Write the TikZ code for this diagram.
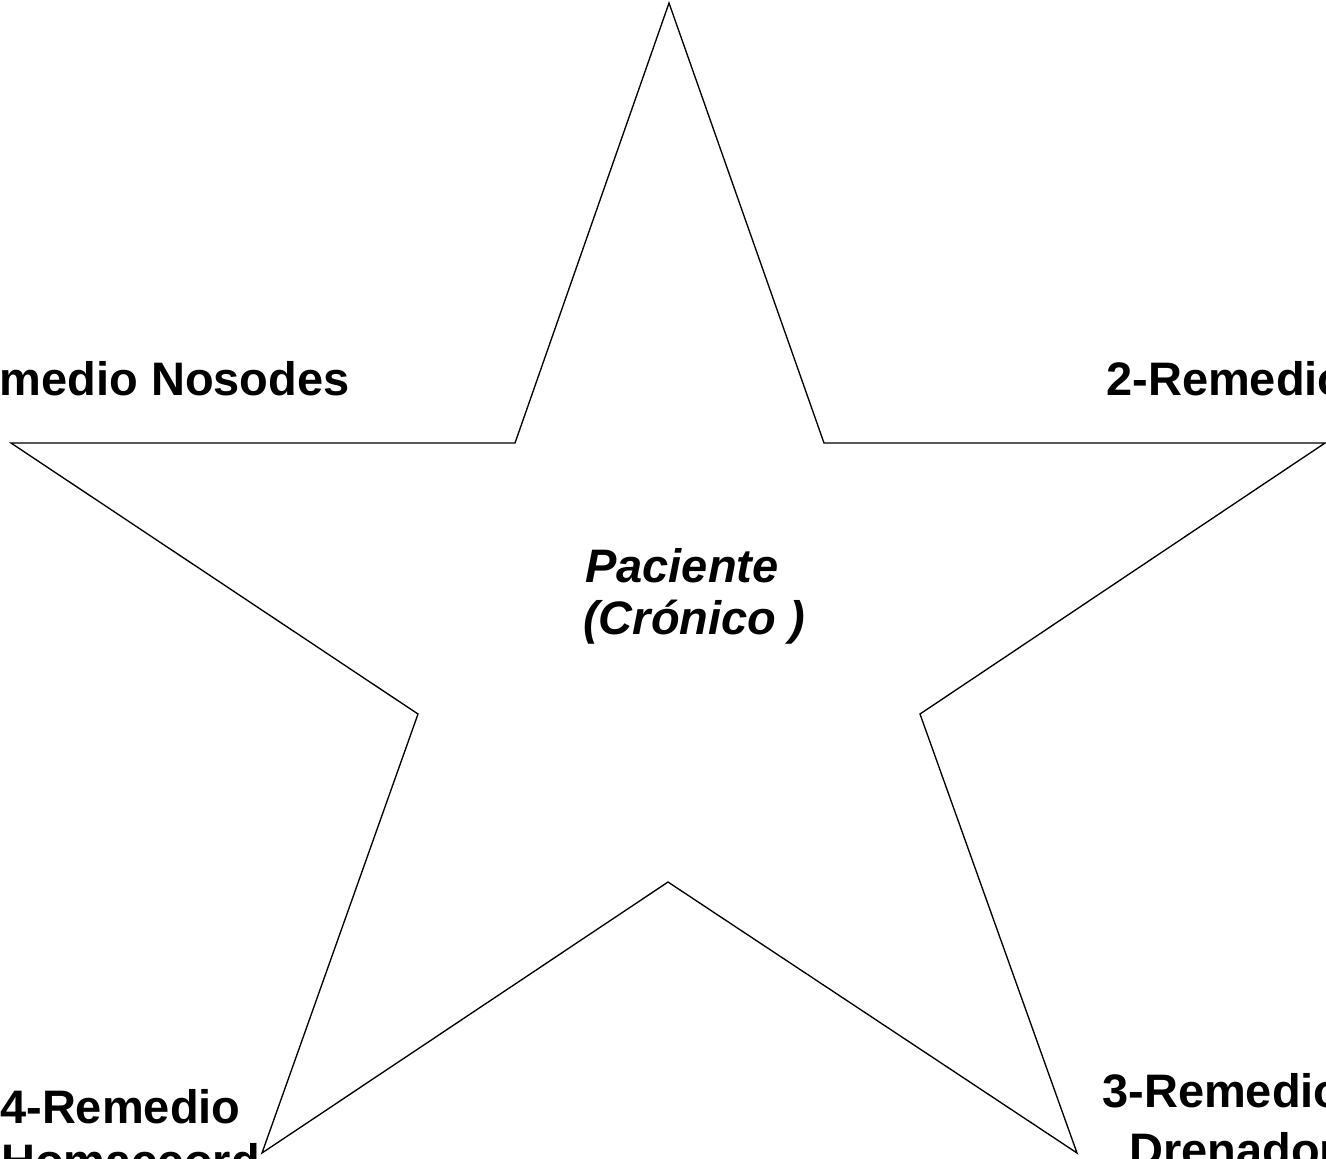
\documentclass[tikz,border=0pt]{standalone}
\usepackage{fontspec}
\setmainfont{Liberation Sans}
\begin{document}
\begin{tikzpicture}[x=0.75pt,y=-0.75pt,
  lbl/.style={font=\fontsize{35.25}{42}\selectfont\bfseries, inner sep=0pt, anchor=base west},
  plbl/.style={font=\fontsize{35.25}{42}\selectfont\bfseries\itshape, inner sep=0pt, anchor=base west},
  starline/.style={draw=black, line width=1pt, line join=miter}]
\useasboundingbox (0,0) rectangle (1326,1158);
% star vertices
\coordinate (top) at (669,3);
\coordinate (iul) at (515,443);
\coordinate (oleft) at (11,443);
\coordinate (ill) at (418,714);
\coordinate (obl) at (262,1153);
\coordinate (ibot) at (668,882);
\coordinate (obr) at (1077,1153);
\coordinate (ilr) at (920,714);
\coordinate (oright) at (1325,443);
\coordinate (iur) at (824,443);
\draw[starline] (top) -- (iul) -- (oleft) -- (ill) -- (obl) -- (ibot) -- (obr) -- (ilr) -- (oright) -- (iur) -- cycle;
% labels
\node[lbl, anchor=base east] (nos) at (350,395) {medio Nosodes};
\node[lbl] (rem2) at (1106,395) {2-Remedio};
\node[lbl] (rem3) at (1102,1107) {3-Remedio};
\node[lbl] (dren) at (1129,1166) {Drenador};
\node[lbl] (rem4) at (0,1123) {4-Remedio};
\node[lbl] (homa) at (1,1177) {Homaccord};
\node[plbl] (pac) at (585,582) {Paciente};
\node[plbl] (cron) at (583,634) {(Crónico )};
\end{tikzpicture}
\end{document}
